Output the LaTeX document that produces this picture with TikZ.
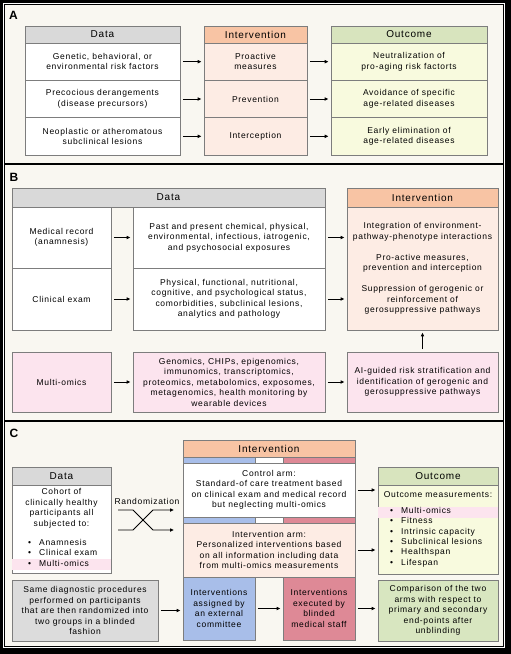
\documentclass[tikz,border=0pt]{standalone}
\usepackage{fontspec}
\setmainfont{Liberation Sans}[LetterSpace=8]
\usetikzlibrary{arrows.meta}
\definecolor{bgc}{RGB}{249,247,241}
\definecolor{bordc}{RGB}{125,125,125}
\definecolor{grayhead}{RGB}{217,217,217}
\definecolor{salmon}{RGB}{248,196,164}
\definecolor{peach}{RGB}{253,236,228}
\definecolor{greenhead}{RGB}{216,228,190}
\definecolor{yellowc}{RGB}{248,250,222}
\definecolor{pinkc}{RGB}{252,228,238}
\definecolor{bluec}{RGB}{168,190,233}
\definecolor{redc}{RGB}{222,137,150}
\definecolor{greenbox}{RGB}{216,230,192}
\definecolor{graybox}{RGB}{220,220,220}
\begin{document}
\begin{tikzpicture}[x=1pt,y=-1pt,
  cell/.style={draw=bordc, line width=0.7pt, inner sep=0pt, align=center, font=\fontsize{8.5}{10.5}\selectfont},
  hdr/.style={cell, font=\fontsize{10}{12}\selectfont},
  plab/.style={font=\fontsize{12}{14}\selectfont\bfseries, inner sep=0pt},
  arr/.style={-{Latex[length=4pt,width=3.8pt]}, line width=0.9pt, shorten <=2.5pt, shorten >=2pt},
  plain/.style={inner sep=0pt, align=center, font=\fontsize{8.5}{10.5}\selectfont},
  listtext/.style={inner sep=0pt, align=left, font=\fontsize{8.5}{10.4}\selectfont}
]
\useasboundingbox (0,0) rectangle (511,654);
% frame
\fill[black] (0,0) rectangle (511,654);
\fill[white] (2.8,2.8) rectangle (505.2,648.2);
\fill[bgc] (4.5,4.5) rectangle (503.4,646.6);
\draw[black, line width=0.8pt] (4.5,4.5) rectangle (503.4,646.6);
\draw[black, line width=1.2pt] (4.5,164) -- (503.4,164);
\draw[black, line width=1.2pt] (4.5,421) -- (503.4,421);

% ---------------- Panel A
\node[plab] (labA) at (13.5,15) {A};
\node[hdr, fill=grayhead, minimum width=155pt, minimum height=17pt] (adh) at (102.5,34.5) {Data};
\node[cell, fill=white, minimum width=155pt, minimum height=37.3pt] (ad1) at (102.5,61.7) {Genetic, behavioral, or\\environmental risk factors};
\node[cell, fill=white, minimum width=155pt, minimum height=37.3pt] (ad2) at (102.5,99) {Precocious derangements\\(disease precursors)};
\node[cell, fill=white, minimum width=155pt, minimum height=37.3pt] (ad3) at (102.5,136.3) {Neoplastic or atheromatous\\subclinical lesions};
\node[hdr, fill=salmon, minimum width=103pt, minimum height=17pt] (aih) at (255.5,34.5) {Intervention};
\node[cell, fill=peach, minimum width=103pt, minimum height=37.3pt] (ai1) at (255.5,61.7) {Proactive\\measures};
\node[cell, fill=peach, minimum width=103pt, minimum height=37.3pt] (ai2) at (255.5,99) {Prevention};
\node[cell, fill=peach, minimum width=103pt, minimum height=37.3pt] (ai3) at (255.5,136.3) {Interception};
\node[hdr, fill=greenhead, minimum width=156pt, minimum height=17pt] (aoh) at (409,34.5) {Outcome};
\node[cell, fill=yellowc, minimum width=156pt, minimum height=37.3pt] (ao1) at (409,61.7) {Neutralization of\\pro-aging risk factorts};
\node[cell, fill=yellowc, minimum width=156pt, minimum height=37.3pt] (ao2) at (409,99) {Avoidance of specific\\age-related diseases};
\node[cell, fill=yellowc, minimum width=156pt, minimum height=37.3pt] (ao3) at (409,136.3) {Early elimination of\\age-related diseases};
\foreach \i in {1,2,3}{
  \draw[arr] (ad\i.east) -- (ai\i.west);
  \draw[arr] (ai\i.east) -- (ao\i.west);
}

% ---------------- Panel B
\node[plab] (labB) at (14,177) {B};
\node[hdr, fill=grayhead, minimum width=313pt, minimum height=19pt] (bdh) at (168.5,197.5) {Data};
\node[cell, fill=white, minimum width=99pt, minimum height=61pt] (bm) at (61.5,237.5) {Medical record\\(anamnesis)};
\node[cell, fill=white, minimum width=99pt, minimum height=62pt] (bc) at (61.5,299) {Clinical exam};
\node[cell, fill=pinkc, minimum width=99pt, minimum height=60pt] (bo) at (61.5,382) {Multi-omics};
\node[cell, fill=white, minimum width=192pt, minimum height=61pt] (bmr) at (229,237.5) {Past and present chemical, physical,\\environmental, infectious, iatrogenic,\\and psychosocial exposures};
\node[cell, fill=white, minimum width=192pt, minimum height=62pt] (bcr) at (229,299) {Physical, functional, nutritional,\\cognitive, and psychological status,\\comorbidities, subclinical lesions,\\analytics and pathology};
\node[cell, fill=pinkc, minimum width=192pt, minimum height=60pt] (bor) at (229,382) {Genomics, CHIPs, epigenomics,\\immunomics, transcriptomics,\\proteomics, metabolomics, exposomes,\\metagenomics, health monitoring by\\wearable devices};
\node[hdr, fill=salmon, minimum width=151pt, minimum height=19pt] (bih) at (422.5,197.5) {Intervention};
\node[cell, fill=peach, minimum width=151pt, minimum height=123pt] (bib) at (422.5,268.5) {Integration of environment-\\pathway-phenotype interactions\\[10.5pt]Pro-active measures,\\prevention and interception\\[10.5pt]Suppression of gerogenic or\\reinforcement of\\gerosuppressive pathways};
\node[cell, fill=pinkc, minimum width=151pt, minimum height=60pt] (bai) at (422.5,382) {AI-guided risk stratification and\\identification of gerogenic and\\gerosuppressive pathways};
\draw[arr] (bm.east) -- (bmr.west);
\draw[arr] (bc.east) -- (bcr.west);
\draw[arr] (bo.east) -- (bor.west);
\draw[arr] (bmr.east) -- (bmr.east -| bib.west);
\draw[arr] (bcr.east) -- (bcr.east -| bib.west);
\draw[arr] (bor.east) -- (bai.west);
\draw[arr] (bai.north) -- (bib.south);

% ---------------- Panel C
\node[plab] (labC) at (14,433) {C};
\node[hdr, fill=salmon, minimum width=172pt, minimum height=17pt] (cih) at (269,448.5) {Intervention};
\node[cell, fill=bluec, minimum width=72pt, minimum height=6pt] (sb1) at (219,460) {};
\node[cell, fill=white, minimum width=28pt, minimum height=6pt] (sw1) at (269,460) {};
\node[cell, fill=redc, minimum width=72pt, minimum height=6pt] (sr1) at (319,460) {};
\node[cell, fill=white, minimum width=172pt, minimum height=54pt] (ctl) at (269,490) {Control arm:\\Standard-of care treatment based\\on clinical exam and medical record\\but neglecting multi-omics};
\node[cell, fill=bluec, minimum width=72pt, minimum height=6pt] (sb2) at (219,520) {};
\node[cell, fill=white, minimum width=28pt, minimum height=6pt] (sw2) at (269,520) {};
\node[cell, fill=redc, minimum width=72pt, minimum height=6pt] (sr2) at (319,520) {};
\node[cell, fill=peach, minimum width=172pt, minimum height=54pt] (iarm) at (269,550) {Intervention arm:\\Personalized interventions based\\on all information including data\\from multi-omics measurements};
\node[cell, fill=bluec, minimum width=72pt, minimum height=63pt] (cblue) at (219,608.5) {Interventions\\assigned by\\an external\\committee};
\node[cell, fill=redc, minimum width=72pt, minimum height=63pt] (cred) at (319,608.5) {Interventions\\executed by\\blinded\\medical staff};

\node[hdr, fill=grayhead, minimum width=99pt, minimum height=18pt] (cdh) at (61.5,476) {Data};
\node[cell, fill=white, minimum width=99pt, minimum height=88pt] (cdb) at (61.5,529) {};
\fill[pinkc] (12.4,559) rectangle (110.6,570);
\node[plain] (cdt) at (61.5,508.5) {Cohort of\\clinically healthy\\participants all\\subjected to:};
\node[listtext, anchor=north west] (cdl) at (28,539) {\makebox[11pt][l]{\textbullet}Anamnesis\\\makebox[11pt][l]{\textbullet}Clinical exam\\\makebox[11pt][l]{\textbullet}Multi-omics};
\node[cell, fill=graybox, minimum width=146pt, minimum height=61pt] (cgray) at (85,610.5) {Same diagnostic procedures\\performed on participants\\that are then randomized into\\two groups in a blinded\\fashion};

\node[hdr, fill=greenhead, minimum width=120pt, minimum height=18pt] (coh) at (438,476) {Outcome};
\node[cell, fill=yellowc, minimum width=120pt, minimum height=89pt] (cob) at (438,529.5) {};
\fill[pinkc] (378.4,507) rectangle (497.6,517.5);
\node[plain] (cot) at (438,495) {Outcome measurements:};
\node[listtext, anchor=north west] (col) at (390,507) {\makebox[11pt][l]{\textbullet}Multi-omics\\\makebox[11pt][l]{\textbullet}Fitness\\\makebox[11pt][l]{\textbullet}Intrinsic capacity\\\makebox[11pt][l]{\textbullet}Subclinical lesions\\\makebox[11pt][l]{\textbullet}Healthspan\\\makebox[11pt][l]{\textbullet}Lifespan};
\node[cell, fill=greenbox, minimum width=120pt, minimum height=61pt] (cgreen) at (438,610.5) {Comparison of the two\\arms with respect to\\primary and secondary\\end-points after\\unblinding};

% randomization
\node[plain] (rlab) at (147,501) {Randomization};
\coordinate (r1) at (118,510); \coordinate (r2) at (133,510);
\coordinate (r3) at (153,530); \coordinate (r4) at (174,530);
\coordinate (q1) at (118,530); \coordinate (q2) at (133,530);
\coordinate (q3) at (153,510); \coordinate (q4) at (174,510);
\draw[-{Latex[length=4pt,width=3.8pt]}, line width=0.9pt] (r1) -- (r2) -- (r3) -- (r4);
\draw[-{Latex[length=4pt,width=3.8pt]}, line width=0.9pt] (q1) -- (q2) -- (q3) -- (q4);

\draw[arr] (cgray.east) -- (cgray.east -| cblue.west);
\draw[arr] (cblue.east) -- (cblue.east -| cred.west);
\draw[arr] (cred.east) -- (cred.east -| cgreen.west);
\draw[arr] (ctl.east) -- (ctl.east -| cob.west);
\draw[arr] (iarm.east) -- (iarm.east -| cob.west);
\end{tikzpicture}
\end{document}
